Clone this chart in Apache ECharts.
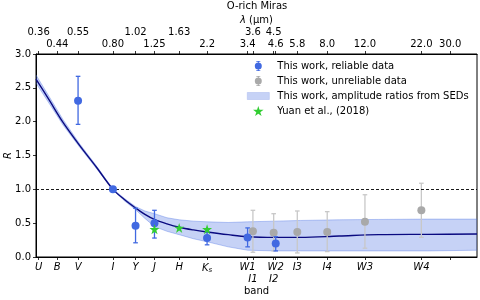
<!DOCTYPE html>
<html><head><meta charset="utf-8">
<script src="https://cdn.jsdelivr.net/npm/echarts@6/dist/echarts.min.js"></script>
<style>html,body{margin:0;padding:0;background:#fff}#c{width:480px;height:300px}</style>
</head><body><div id="c"></div><script>
// ---- data ----
const bandNames = ['U','B','V','I','Y','J','H','Ks','W1','I1','W2','I2','I3','I4','W3','W4'];
const bandWave  = [0.36,0.44,0.55,0.80,1.02,1.25,1.63,2.2,3.4,3.6,4.6,4.5,5.8,8.0,12.0,22.0];
const bottomRow1 = ['U','B','V','I','Y','J','H','Ks','W1','W2','I3','I4','W3','W4'];
const bottomRow2 = ['I1','I2'];
const topRowLower = ['0.44','0.80','1.25','2.2','3.4','4.6','5.8','8.0','12.0','22.0','30.0'];
const topRowUpper = ['0.36','0.55','1.02','1.63','3.6','4.5'];
const extraTickWave = [30.0];

const relBand = ['V','I','Y','J','Ks','W1','W2'];
const relR    = [2.31,1.00,0.46,0.50,0.28,0.29,0.20];
const relLo   = [1.96,1.00,0.21,0.28,0.18,0.15,0.09];
const relHi   = [2.67,1.00,0.72,0.69,0.37,0.43,0.30];

const unrBand = ['I1','I2','I3','I4','W3','W4'];
const unrR    = [0.38,0.36,0.37,0.37,0.52,0.69];
const unrLo   = [0.07,0.09,0.06,0.08,0.13,0.29];
const unrHi   = [0.69,0.64,0.68,0.67,0.92,1.09];

const yuanBand = ['J','H','Ks'];
const yuanR    = [0.41,0.43,0.41];

const curveWave = [0.35,0.405,0.468,0.559,0.669,0.80,0.905,1.02,1.128,1.25,1.43,1.63,1.90,2.2,2.76,3.4,4.55,6.0,9.1,13.9,23.6,40];
const curveR    = [2.63,2.31,1.99,1.65,1.33,1.00,0.85,0.725,0.63,0.555,0.49,0.44,0.40,0.37,0.33,0.30,0.29,0.29,0.31,0.33,0.335,0.34];
const sedLo     = [2.57,2.26,1.95,1.625,1.31,0.995,0.83,0.70,0.57,0.45,0.38,0.33,0.27,0.225,0.15,0.10,0.09,0.09,0.09,0.09,0.09,0.10];
const sedHi     = [2.69,2.36,2.03,1.675,1.35,1.005,0.865,0.745,0.68,0.64,0.58,0.55,0.53,0.52,0.51,0.52,0.53,0.54,0.55,0.555,0.56,0.56];

const xMinWave = 0.35, xMaxWave = 40;

// ---- helpers ----
const F = 'DejaVu Sans';
const lg = v => Math.log10(v);
const waveOf = b => bandWave[bandNames.indexOf(b)];
const near = (a, b) => Math.abs(a - b) < 1e-6;
const bandLabel = b => b === 'Ks' ? '{i|K}{s|s}' : '{i|' + b + '}';
const fmtBands = list => v => { const b = list.find(n => near(lg(waveOf(n)), v)); return b ? bandLabel(b) : ''; };
const fmtWaves = list => v => { const s = list.find(n => near(lg(Number(n)), v)); return s || ''; };

const tickVals = bandWave.concat(extraTickWave).map(lg);
const N1 = 'This work, reliable data', N2 = 'This work, unreliable data',
      N3 = 'This work, amplitude ratios from SEDs', N4 = 'Yuan et al., (2018)';
const BLUE = '#4169e1', GRAY = '#a9a9a9', GREEN = '#32cd32';
const ebIcon = 'path://M3.5,0h1v10h-1z M2,0h4v0.8h-4z M2,9.2h4v0.8h-4z M0.5,5a3.5,3.5 0 1 1 7,0a3.5,3.5 0 1 1 -7,0z';
const starPath = 'path://M5,0L6.18,3.6L10,3.6L6.9,5.9L8.1,9.5L5,7.3L1.9,9.5L3.1,5.9L0,3.6L3.82,3.6Z';

function errRender(color, lw) {
  return function (params, api) {
    const x = api.value(0), lo = api.value(1), hi = api.value(2);
    const a = api.coord([x, hi]), b = api.coord([x, lo]);
    const cw = 2.3, st = {stroke: color, lineWidth: lw};
    return {type: 'group', children: [
      {type: 'line', shape: {x1: a[0], y1: a[1], x2: b[0], y2: b[1]}, style: st},
      {type: 'line', shape: {x1: a[0]-cw, y1: a[1], x2: a[0]+cw, y2: a[1]}, style: st},
      {type: 'line', shape: {x1: b[0]-cw, y1: b[1], x2: b[0]+cw, y2: b[1]}, style: st}
    ]};
  };
}
const errData = (bands, lo, hi) => bands.map((b, i) => [lg(waveOf(b)), lo[i], hi[i]]).filter(d => d[1] !== d[2]);

function bandRender(params, api) {
  if (params.dataIndex !== 0) return null;
  const up = curveWave.map((w, i) => api.coord([lg(w), sedHi[i]]));
  const dn = curveWave.map((w, i) => api.coord([lg(w), sedLo[i]]));
  const edge = {stroke: 'rgba(65,105,225,0.35)', lineWidth: 1, fill: null};
  return {type: 'group', children: [
    {type: 'polygon', shape: {points: up.concat(dn.slice().reverse())}, style: {fill: 'rgba(65,105,225,0.3)'}},
    {type: 'polyline', shape: {points: up}, style: edge},
    {type: 'polyline', shape: {points: dn}, style: edge}
  ]};
}

const richLab = {i: {fontStyle: 'italic', fontSize: 10, fontFamily: F, color: '#000'},
                 s: {fontStyle: 'italic', fontSize: 7, fontFamily: F, color: '#000', verticalAlign: 'bottom', padding: [4,0,0,0]}};
const baseX = {type: 'value', min: lg(xMinWave), max: lg(xMaxWave), gridIndex: 0, splitLine: {show: false}};
const lab = {fontSize: 10, fontFamily: F, color: '#000'};

const option = {
  animation: false,
  textStyle: {fontFamily: F},
  title: {text: 'O-rich Miras', left: 257, textAlign: 'center', top: 1, padding: 0,
          textStyle: {fontSize: 10, fontWeight: 'normal', color: '#000', fontFamily: F}},
  grid: {left: 36, right: 3, top: 54, bottom: 43, containLabel: false, outerBoundsMode: 'none',
         show: true, borderColor: '#000', borderWidth: 1, backgroundColor: 'transparent'},
  legend: {orient: 'vertical', left: 247, top: 61, itemWidth: 22, itemHeight: 10, itemGap: 5, padding: 0,
           selectedMode: false,
           textStyle: {fontSize: 10, color: '#000', fontFamily: F, padding: [0,0,0,3]},
           data: [
             {name: N1, icon: ebIcon, itemStyle: {color: BLUE, borderWidth: 0}},
             {name: N2, icon: ebIcon, itemStyle: {color: GRAY, borderWidth: 0}},
             {name: N3, icon: 'path://M0,0h22v7h-22z', itemStyle: {color: '#c6d2f6', borderColor: '#b0c0f0', borderWidth: 0.6}},
             {name: N4, icon: starPath, itemStyle: {color: GREEN, borderWidth: 0}}
           ]},
  xAxis: [
    Object.assign({}, baseX, {position: 'bottom',
      axisLine: {show: true, onZero: false, lineStyle: {color: '#000', width: 1}},
      axisTick: {show: true, length: 3, lineStyle: {color: '#000', width: 0.8}, customValues: tickVals},
      axisLabel: Object.assign({}, lab, {margin: 5.5, customValues: bottomRow1.map(b => lg(waveOf(b))),
        formatter: fmtBands(bottomRow1), rich: richLab})}),
    Object.assign({}, baseX, {position: 'bottom', offset: 12,
      axisLine: {show: false, onZero: false}, axisTick: {show: false},
      axisLabel: Object.assign({}, lab, {margin: 5, customValues: bottomRow2.map(b => lg(waveOf(b))),
        formatter: fmtBands(bottomRow2), rich: richLab}),
      name: 'band', nameLocation: 'middle', nameGap: 17, nameMoveOverlap: false, nameTextStyle: lab}),
    Object.assign({}, baseX, {position: 'top',
      axisLine: {show: true, onZero: false, lineStyle: {color: '#000', width: 1}},
      axisTick: {show: true, length: 3, lineStyle: {color: '#000', width: 0.8}, customValues: tickVals},
      axisLabel: Object.assign({}, lab, {margin: 5, customValues: topRowLower.map(s => lg(Number(s))),
        formatter: fmtWaves(topRowLower)}),
      name: '{i|λ} (μm)', nameLocation: 'middle', nameGap: 29, nameMoveOverlap: false,
      nameTextStyle: Object.assign({}, lab, {rich: {i: {fontStyle: 'italic', fontSize: 10, fontFamily: F, color: '#000'}}})}),
    Object.assign({}, baseX, {position: 'top', offset: 12,
      axisLine: {show: false, onZero: false}, axisTick: {show: false},
      axisLabel: Object.assign({}, lab, {margin: 5, customValues: topRowUpper.map(s => lg(Number(s))),
        formatter: fmtWaves(topRowUpper)})})
  ],
  yAxis: {type: 'value', min: 0, max: 3, interval: 0.5, splitLine: {show: false},
    axisLine: {show: true, onZero: false, lineStyle: {color: '#000', width: 1}},
    axisTick: {show: true, length: 3, lineStyle: {color: '#000', width: 0.8}},
    axisLabel: Object.assign({}, lab, {margin: 5, formatter: v => v.toFixed(1)}),
    name: '{i|R}', nameLocation: 'middle', nameGap: 23, nameRotate: 90, nameMoveOverlap: false,
    nameTextStyle: Object.assign({}, lab, {rich: {i: {fontStyle: 'italic', fontSize: 10, fontFamily: F, color: '#000'}}})},
  series: [
    {name: N3, type: 'custom', xAxisIndex: 0, z: 1, clip: true, renderItem: bandRender,
     encode: {x: 0, y: [1, 2]}, itemStyle: {color: '#c6d2f6'},
     data: curveWave.map((w, i) => [lg(w), sedLo[i], sedHi[i]])},
    {name: 'fit', type: 'line', xAxisIndex: 0, symbol: 'none', smooth: 0.35, z: 2,
     lineStyle: {color: '#0a0a80', width: 1.4},
     data: curveWave.map((w, i) => [lg(w), curveR[i]]),
     markLine: {silent: true, symbol: 'none', label: {show: false},
                lineStyle: {color: '#000', width: 0.9, type: [3, 2]}, data: [{yAxis: 1}]}},
    {name: N2, type: 'custom', xAxisIndex: 0, z: 3, renderItem: errRender('#c8c8c8', 1.3),
     encode: {x: 0, y: [1, 2]}, itemStyle: {color: GRAY}, data: errData(unrBand, unrLo, unrHi)},
    {name: N2, type: 'scatter', xAxisIndex: 0, z: 4, symbol: 'circle', symbolSize: 8,
     itemStyle: {color: GRAY, opacity: 1}, data: unrBand.map((b, i) => [lg(waveOf(b)), unrR[i]])},
    {name: N1, type: 'custom', xAxisIndex: 0, z: 5, renderItem: errRender(BLUE, 1.3),
     encode: {x: 0, y: [1, 2]}, itemStyle: {color: BLUE}, data: errData(relBand, relLo, relHi)},
    {name: N1, type: 'scatter', xAxisIndex: 0, z: 6, symbol: 'circle', symbolSize: 8,
     itemStyle: {color: BLUE, opacity: 1}, data: relBand.map((b, i) => [lg(waveOf(b)), relR[i]])},
    {name: N4, type: 'scatter', xAxisIndex: 0, z: 7, symbol: starPath, symbolSize: 10,
     itemStyle: {color: GREEN, opacity: 1}, data: yuanBand.map((b, i) => [lg(waveOf(b)), yuanR[i]])}
  ]
};
echarts.init(document.getElementById('c'), null, {renderer: 'canvas'}).setOption(option);
</script></body></html>
